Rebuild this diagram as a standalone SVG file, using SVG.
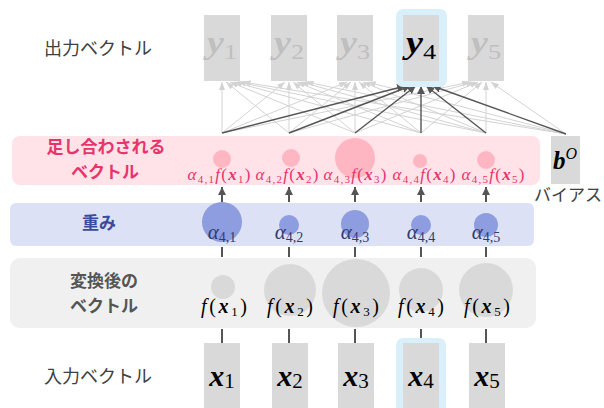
<svg xmlns="http://www.w3.org/2000/svg" width="604" height="408" viewBox="0 0 604 408">
<style>
.jp{font-family:"Noto Sans CJK JP","Noto Sans",sans-serif;}
.lbl{font-size:18px;fill:#404040;}
.hd{font-size:17px;font-weight:bold;}
.m{font-family:"Liberation Serif","DejaVu Serif",serif;}
.it{font-style:italic;}
.bi{font-style:italic;font-weight:bold;}
.box{fill:#d9d9d9;}
.hl{fill:#d9f0fa;}
.lt{stroke:#d3d3d3;stroke-width:1;fill:none;marker-end:url(#al);}
.dk{stroke:#555;stroke-width:1.4;fill:none;marker-end:url(#ad);}
.vl{stroke:#555;stroke-width:2;}
.va{stroke:#555;stroke-width:2;marker-end:url(#ad);}
</style>
<defs>
<marker id="al" markerUnits="userSpaceOnUse" markerWidth="8" markerHeight="6" refX="8" refY="3" orient="auto"><path d="M0,0 L8,3 L0,6 z" fill="#d3d3d3"/></marker>
<marker id="ad" markerUnits="userSpaceOnUse" markerWidth="8" markerHeight="8" refX="8" refY="4" orient="auto"><path d="M0,0 L8,4 L0,8 z" fill="#555"/></marker>
</defs>
<rect width="604" height="408" fill="#fff"/>

<g id="bands">
<rect x="12" y="136" width="528" height="49" rx="8" fill="#ffe3e8"/>
<rect x="10" y="203" width="524" height="43" rx="6" fill="#dce1f5"/>
<rect x="10" y="258" width="526" height="70" rx="10" fill="#f0f0f0"/>
</g>

<g id="row-labels" class="jp">
<text x="44" y="55" class="lbl">出力ベクトル</text>
<text x="106" y="153" text-anchor="middle" class="hd" fill="#e8336d">足し合わされる</text>
<text x="105" y="178" text-anchor="middle" class="hd" fill="#e8336d">ベクトル</text>
<text x="99" y="229" text-anchor="middle" class="hd" fill="#3b4a9c">重み</text>
<text x="104" y="287" text-anchor="middle" class="hd" fill="#555">変換後の</text>
<text x="104" y="312" text-anchor="middle" class="hd" fill="#555">ベクトル</text>
<text x="44" y="383" class="lbl">入力ベクトル</text>
</g>

<g id="connectors">
<line class="lt" x1="222" y1="133" x2="222" y2="82"/>
<line class="lt" x1="289" y1="133" x2="226" y2="82"/>
<line class="lt" x1="355" y1="133" x2="230" y2="82"/>
<line class="lt" x1="421" y1="133" x2="233.9" y2="82"/>
<line class="lt" x1="486" y1="133" x2="237.8" y2="82"/>
<line class="lt" x1="566" y1="134" x2="242.6" y2="82"/>
<line class="lt" x1="222" y1="133" x2="285" y2="82"/>
<line class="lt" x1="289" y1="133" x2="289" y2="82"/>
<line class="lt" x1="355" y1="133" x2="293" y2="82"/>
<line class="lt" x1="421" y1="133" x2="296.9" y2="82"/>
<line class="lt" x1="486" y1="133" x2="300.8" y2="82"/>
<line class="lt" x1="566" y1="134" x2="305.6" y2="82"/>
<line class="lt" x1="222" y1="133" x2="347" y2="82"/>
<line class="lt" x1="289" y1="133" x2="351" y2="82"/>
<line class="lt" x1="355" y1="133" x2="355" y2="82"/>
<line class="lt" x1="421" y1="133" x2="359" y2="82"/>
<line class="lt" x1="486" y1="133" x2="362.9" y2="82"/>
<line class="lt" x1="566" y1="134" x2="367.7" y2="82"/>
<line class="lt" x1="222" y1="133" x2="470.2" y2="82"/>
<line class="lt" x1="289" y1="133" x2="474.2" y2="82"/>
<line class="lt" x1="355" y1="133" x2="478.1" y2="82"/>
<line class="lt" x1="421" y1="133" x2="482.1" y2="82"/>
<line class="lt" x1="486" y1="133" x2="486" y2="82"/>
<line class="lt" x1="566" y1="134" x2="490.8" y2="82"/>
<line class="dk" x1="222" y1="133" x2="405.1" y2="86"/>
<line class="dk" x1="289" y1="133" x2="410.4" y2="86"/>
<line class="dk" x1="355" y1="133" x2="415.7" y2="86"/>
<line class="dk" x1="421" y1="133" x2="421" y2="86"/>
<line class="dk" x1="486" y1="133" x2="426.2" y2="86"/>
<line class="dk" x1="566" y1="134" x2="432.6" y2="86"/>
<line class="va" x1="222" y1="202" x2="222" y2="187"/>
<line class="va" x1="289" y1="202" x2="289" y2="187"/>
<line class="va" x1="355" y1="202" x2="355" y2="187"/>
<line class="va" x1="421" y1="202" x2="421" y2="187"/>
<line class="va" x1="486" y1="202" x2="486" y2="187"/>
<line class="vl" x1="222" y1="247" x2="222" y2="257"/>
<line class="vl" x1="289" y1="247" x2="289" y2="257"/>
<line class="vl" x1="355" y1="247" x2="355" y2="257"/>
<line class="vl" x1="421" y1="247" x2="421" y2="257"/>
<line class="vl" x1="486" y1="247" x2="486" y2="257"/>
<line class="vl" x1="222" y1="329" x2="222" y2="343"/>
<line class="vl" x1="289" y1="329" x2="289" y2="343"/>
<line class="vl" x1="355" y1="329" x2="355" y2="343"/>
<line class="vl" x1="421" y1="329" x2="421" y2="343"/>
<line class="vl" x1="486" y1="329" x2="486" y2="343"/>
</g>

<g id="y1"><rect class="box" x="204" y="15" width="36" height="66"/><text x="222" y="53" text-anchor="middle" class="m" fill="#bfbfbf" textLength="30" lengthAdjust="spacingAndGlyphs"><tspan class="bi" font-size="32">y</tspan><tspan font-size="22" dy="6">1</tspan></text></g>
<g id="y2"><rect class="box" x="271" y="15" width="36" height="66"/><text x="289" y="53" text-anchor="middle" class="m" fill="#bfbfbf" textLength="30" lengthAdjust="spacingAndGlyphs"><tspan class="bi" font-size="32">y</tspan><tspan font-size="22" dy="6">2</tspan></text></g>
<g id="y3"><rect class="box" x="337" y="15" width="36" height="66"/><text x="355" y="53" text-anchor="middle" class="m" fill="#bfbfbf" textLength="30" lengthAdjust="spacingAndGlyphs"><tspan class="bi" font-size="32">y</tspan><tspan font-size="22" dy="6">3</tspan></text></g>
<g id="y4"><rect class="hl" x="396" y="9" width="51" height="78" rx="7"/><rect class="box" x="403" y="15" width="36" height="66"/><text x="421" y="53" text-anchor="middle" class="m" fill="#000" textLength="30" lengthAdjust="spacingAndGlyphs"><tspan class="bi" font-size="32">y</tspan><tspan font-size="22" dy="6">4</tspan></text></g>
<g id="y5"><rect class="box" x="468" y="15" width="36" height="66"/><text x="486" y="53" text-anchor="middle" class="m" fill="#bfbfbf" textLength="30" lengthAdjust="spacingAndGlyphs"><tspan class="bi" font-size="32">y</tspan><tspan font-size="22" dy="6">5</tspan></text></g>

<g id="bias"><rect class="box" x="551" y="136" width="29" height="48"/><text x="565" y="169" text-anchor="middle" class="m"><tspan class="bi" font-size="25">b</tspan><tspan class="it" font-size="16" dy="-10">O</tspan></text><text x="534" y="201" class="jp" font-size="17" fill="#404040">バイアス</text></g>

<g id="summed" class="m" fill="#e8336d">
<circle cx="222" cy="159" r="9" fill="#ffb6c3"/>
<circle cx="291" cy="158" r="9" fill="#ffb6c3"/>
<circle cx="355" cy="158" r="20" fill="#ffb6c3"/>
<circle cx="420" cy="161" r="7" fill="#ffb6c3"/>
<circle cx="486" cy="160" r="9" fill="#ffb6c3"/>
<text x="219" y="180" text-anchor="middle" font-size="17" textLength="63" lengthAdjust="spacing"><tspan class="it">α</tspan><tspan font-size="11" dy="3">4,1</tspan><tspan class="it" dy="-3">f</tspan>(<tspan class="bi">x</tspan><tspan font-size="11" dy="3">1</tspan><tspan dy="-3">)</tspan></text>
<text x="287" y="180" text-anchor="middle" font-size="17" textLength="63" lengthAdjust="spacing"><tspan class="it">α</tspan><tspan font-size="11" dy="3">4,2</tspan><tspan class="it" dy="-3">f</tspan>(<tspan class="bi">x</tspan><tspan font-size="11" dy="3">2</tspan><tspan dy="-3">)</tspan></text>
<text x="355" y="180" text-anchor="middle" font-size="17" textLength="63" lengthAdjust="spacing"><tspan class="it">α</tspan><tspan font-size="11" dy="3">4,3</tspan><tspan class="it" dy="-3">f</tspan>(<tspan class="bi">x</tspan><tspan font-size="11" dy="3">3</tspan><tspan dy="-3">)</tspan></text>
<text x="424" y="180" text-anchor="middle" font-size="17" textLength="63" lengthAdjust="spacing"><tspan class="it">α</tspan><tspan font-size="11" dy="3">4,4</tspan><tspan class="it" dy="-3">f</tspan>(<tspan class="bi">x</tspan><tspan font-size="11" dy="3">4</tspan><tspan dy="-3">)</tspan></text>
<text x="493" y="180" text-anchor="middle" font-size="17" textLength="63" lengthAdjust="spacing"><tspan class="it">α</tspan><tspan font-size="11" dy="3">4,5</tspan><tspan class="it" dy="-3">f</tspan>(<tspan class="bi">x</tspan><tspan font-size="11" dy="3">5</tspan><tspan dy="-3">)</tspan></text>
</g>

<g id="weights" class="m" fill="#2f3b6e">
<circle cx="222" cy="222" r="20" fill="#8d9ddf"/>
<circle cx="289" cy="225" r="10" fill="#8d9ddf"/>
<circle cx="355" cy="224" r="14" fill="#8d9ddf"/>
<circle cx="421" cy="225" r="10" fill="#8d9ddf"/>
<circle cx="486" cy="225" r="12" fill="#8d9ddf"/>
<text x="222" y="239" text-anchor="middle" font-size="21"><tspan class="it">α</tspan><tspan font-size="14" dy="3">4,1</tspan></text>
<text x="289" y="239" text-anchor="middle" font-size="21"><tspan class="it">α</tspan><tspan font-size="14" dy="3">4,2</tspan></text>
<text x="355" y="239" text-anchor="middle" font-size="21"><tspan class="it">α</tspan><tspan font-size="14" dy="3">4,3</tspan></text>
<text x="421" y="239" text-anchor="middle" font-size="21"><tspan class="it">α</tspan><tspan font-size="14" dy="3">4,4</tspan></text>
<text x="486" y="239" text-anchor="middle" font-size="21"><tspan class="it">α</tspan><tspan font-size="14" dy="3">4,5</tspan></text>
</g>

<g id="transformed" class="m" fill="#000">
<circle cx="223" cy="287" r="12" fill="#d9d9d9"/>
<circle cx="290" cy="290" r="26" fill="#d9d9d9"/>
<circle cx="356" cy="293" r="34" fill="#d9d9d9"/>
<circle cx="421" cy="290" r="22" fill="#d9d9d9"/>
<circle cx="486" cy="290" r="27" fill="#d9d9d9"/>
<text x="224" y="313" text-anchor="middle" font-size="20" textLength="46" lengthAdjust="spacing"><tspan class="it">f</tspan>(<tspan class="bi">x</tspan><tspan font-size="13" dy="3">1</tspan><tspan dy="-3">)</tspan></text>
<text x="290" y="313" text-anchor="middle" font-size="20" textLength="46" lengthAdjust="spacing"><tspan class="it">f</tspan>(<tspan class="bi">x</tspan><tspan font-size="13" dy="3">2</tspan><tspan dy="-3">)</tspan></text>
<text x="356" y="313" text-anchor="middle" font-size="20" textLength="46" lengthAdjust="spacing"><tspan class="it">f</tspan>(<tspan class="bi">x</tspan><tspan font-size="13" dy="3">3</tspan><tspan dy="-3">)</tspan></text>
<text x="421" y="313" text-anchor="middle" font-size="20" textLength="46" lengthAdjust="spacing"><tspan class="it">f</tspan>(<tspan class="bi">x</tspan><tspan font-size="13" dy="3">4</tspan><tspan dy="-3">)</tspan></text>
<text x="487" y="313" text-anchor="middle" font-size="20" textLength="46" lengthAdjust="spacing"><tspan class="it">f</tspan>(<tspan class="bi">x</tspan><tspan font-size="13" dy="3">5</tspan><tspan dy="-3">)</tspan></text>
</g>

<g id="x1"><rect class="box" x="204" y="343" width="36" height="65"/><text x="222" y="386" text-anchor="middle" class="m"><tspan class="bi" font-size="30">x</tspan><tspan font-size="21" dy="2">1</tspan></text></g>
<g id="x2"><rect class="box" x="272" y="343" width="36" height="65"/><text x="290" y="386" text-anchor="middle" class="m"><tspan class="bi" font-size="30">x</tspan><tspan font-size="21" dy="2">2</tspan></text></g>
<g id="x3"><rect class="box" x="338" y="343" width="36" height="65"/><text x="356" y="386" text-anchor="middle" class="m"><tspan class="bi" font-size="30">x</tspan><tspan font-size="21" dy="2">3</tspan></text></g>
<g id="x4"><rect class="hl" x="396" y="338" width="50" height="75" rx="7"/><rect class="box" x="403" y="343" width="36" height="65"/><text x="421" y="386" text-anchor="middle" class="m"><tspan class="bi" font-size="30">x</tspan><tspan font-size="21" dy="2">4</tspan></text></g>
<g id="x5"><rect class="box" x="469" y="343" width="36" height="65"/><text x="487" y="386" text-anchor="middle" class="m"><tspan class="bi" font-size="30">x</tspan><tspan font-size="21" dy="2">5</tspan></text></g>
</svg>
